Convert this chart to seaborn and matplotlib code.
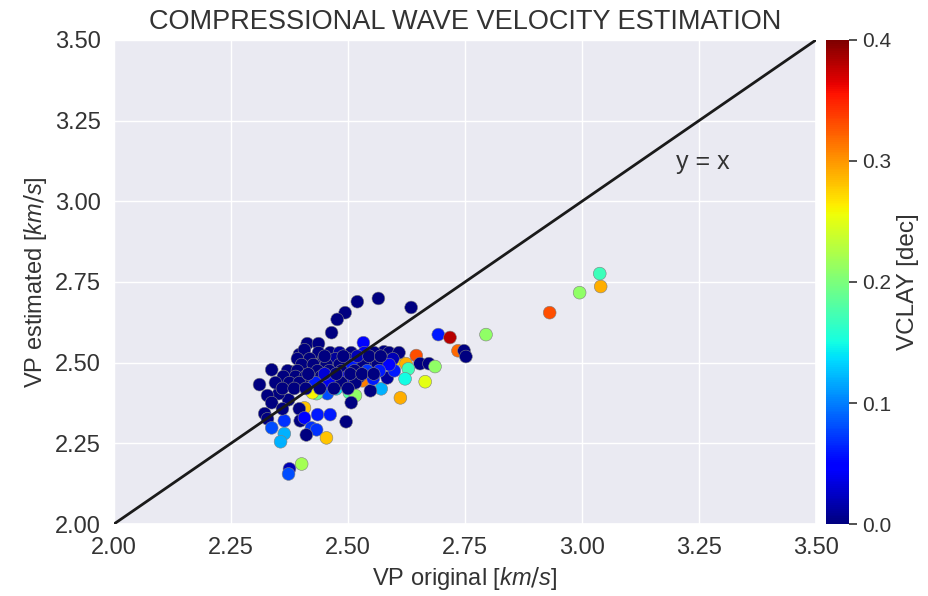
import numpy as np
import pandas as pd
import matplotlib
matplotlib.use('Agg')
import matplotlib.pyplot as plt
import seaborn as sns

# points: VP original, VP estimated (km/s), VCLAY (dec)
vp_orig = [2.520, 2.565, 2.635, 2.494, 2.477, 2.465, 2.413, 2.437, 2.396, 2.407,
           2.533, 2.577, 2.693, 2.718, 2.337, 2.311, 2.377, 2.424, 2.607, 2.624,
           2.646, 2.654, 2.673, 2.686, 2.629, 2.622, 2.665, 2.612, 2.571, 2.548,
           2.531, 2.554, 2.584, 2.599, 2.503, 2.516, 2.507, 2.475, 2.456, 2.433,
           2.424, 2.407, 2.373, 2.352, 2.328, 2.337, 2.322, 2.328, 2.337, 2.364,
           2.360, 2.396, 2.398, 2.407, 2.435, 2.462, 2.422, 2.433, 2.411, 2.454,
           2.364, 2.356, 2.496, 2.401, 2.375, 2.373, 2.735, 2.748, 2.752, 2.795,
           2.931, 2.995, 3.040, 3.038,
           # dense cluster
           2.437, 2.462, 2.482, 2.507, 2.535, 2.556, 2.588, 2.609,
           2.392, 2.418, 2.448, 2.473, 2.499, 2.524, 2.550, 2.575, 2.596,
           2.401, 2.426, 2.454, 2.482, 2.507, 2.533, 2.563, 2.588,
           2.371, 2.392, 2.435, 2.460, 2.486, 2.514, 2.541, 2.567,
           2.362, 2.388, 2.409, 2.443, 2.471, 2.499, 2.524,
           2.345, 2.375, 2.396, 2.430, 2.460, 2.486, 2.516,
           2.450, 2.490, 2.520, 2.545, 2.570,
           2.415, 2.450, 2.475, 2.505, 2.530, 2.555,
           2.360, 2.385, 2.410, 2.440, 2.470, 2.500]
vp_est = [2.689, 2.699, 2.671, 2.655, 2.634, 2.593, 2.559, 2.559, 2.525, 2.540,
          2.562, 2.534, 2.587, 2.578, 2.478, 2.432, 2.472, 2.463, 2.512, 2.497,
          2.522, 2.497, 2.497, 2.488, 2.481, 2.450, 2.441, 2.391, 2.419, 2.413,
          2.444, 2.450, 2.453, 2.475, 2.407, 2.398, 2.376, 2.419, 2.404, 2.404,
          2.407, 2.360, 2.385, 2.404, 2.398, 2.376, 2.342, 2.326, 2.298, 2.320,
          2.357, 2.357, 2.320, 2.329, 2.339, 2.339, 2.298, 2.292, 2.276, 2.267,
          2.280, 2.255, 2.317, 2.186, 2.171, 2.155, 2.537, 2.537, 2.519, 2.587,
          2.655, 2.717, 2.736, 2.776,
          2.531, 2.531, 2.531, 2.531, 2.531, 2.531, 2.531, 2.531,
          2.512, 2.512, 2.512, 2.512, 2.512, 2.512, 2.512, 2.512, 2.512,
          2.494, 2.494, 2.494, 2.494, 2.494, 2.494, 2.494, 2.494,
          2.475, 2.475, 2.475, 2.475, 2.475, 2.475, 2.475, 2.475,
          2.457, 2.457, 2.457, 2.457, 2.457, 2.457, 2.457,
          2.438, 2.438, 2.438, 2.438, 2.438, 2.438, 2.438,
          2.520, 2.520, 2.520, 2.520, 2.520,
          2.465, 2.465, 2.465, 2.465, 2.465, 2.465,
          2.420, 2.420, 2.420, 2.420, 2.420, 2.420]
vclay = [0.0, 0.0, 0.0, 0.0, 0.0, 0.0, 0.0, 0.0, 0.0, 0.0,
         0.05, 0.0, 0.06, 0.38, 0.0, 0.0, 0.0, 0.26, 0.27, 0.29,
         0.33, 0.0, 0.0, 0.21, 0.17, 0.15, 0.25, 0.29, 0.12, 0.0,
         0.31, 0.06, 0.01, 0.06, 0.18, 0.21, 0.0, 0.14, 0.08, 0.19,
         0.26, 0.28, 0.0, 0.0, 0.0, 0.0, 0.0, 0.0, 0.08, 0.07,
         0.0, 0.0, 0.0, 0.05, 0.06, 0.06, 0.07, 0.07, 0.0, 0.28,
         0.12, 0.12, 0.0, 0.22, 0.02, 0.08, 0.32, 0.0, 0.0, 0.21,
         0.33, 0.21, 0.29, 0.17,
         0.0, 0.0, 0.01, 0.0, 0.04, 0.0, 0.0, 0.0,
         0.0, 0.0, 0.0, 0.01, 0.0, 0.05, 0.0, 0.0, 0.02,
         0.0, 0.0, 0.0, 0.0, 0.06, 0.0, 0.0, 0.05,
         0.0, 0.0, 0.0, 0.0, 0.0, 0.0, 0.07, 0.06,
         0.0, 0.0, 0.0, 0.0, 0.13, 0.05, 0.0,
         0.0, 0.0, 0.0, 0.06, 0.04, 0.0, 0.0,
         0.0, 0.0, 0.02, 0.0, 0.0,
         0.0, 0.03, 0.0, 0.0, 0.0, 0.0,
         0.0, 0.0, 0.0, 0.0, 0.0, 0.0]

ticks = [2.00, 2.25, 2.50, 2.75, 3.00, 3.25, 3.50]
cbar_ticks = [0.0, 0.1, 0.2, 0.3, 0.4]

df = pd.DataFrame({'VP': vp_orig, 'VP_est': vp_est, 'VCLAY': vclay})

sns.set_theme(style='darkgrid')
plt.rcParams['font.family'] = ['Liberation Sans', 'DejaVu Sans']
plt.rcParams['mathtext.fontset'] = 'custom'
plt.rcParams['mathtext.it'] = 'Liberation Sans:italic'

jet = plt.get_cmap('jet')

fig = plt.figure(figsize=(9.29, 5.96), dpi=100)
ax = fig.add_axes([0.1227, 0.1208, 0.7556, 0.8121])
cax = fig.add_axes([0.8891, 0.1208, 0.0248, 0.8121])

sns.scatterplot(data=df, x='VP', y='VP_est', hue='VCLAY', palette=jet,
                hue_norm=(0, 0.4), s=85, edgecolor='grey', linewidth=0.4,
                legend=False, ax=ax, zorder=3)
ax.plot([2.0, 3.5], [2.0, 3.5], color='#1a1a1a', lw=2, zorder=4)
ax.text(3.2, 3.1, 'y = x', fontsize=18, color='#333333')

ax.set_xlim(2.0, 3.5)
ax.set_ylim(2.0, 3.5)
ax.set_xticks(ticks)
ax.set_yticks(ticks)
ax.set_xticklabels(['%.2f' % t for t in ticks])
ax.set_yticklabels(['%.2f' % t for t in ticks])
ax.tick_params(axis='both', labelsize=17, colors='#333333')
ax.set_xlabel('VP original [$km/s$]', fontsize=17, color='#333333')
ax.set_ylabel('VP estimated [$km/s$]', fontsize=17, color='#333333')
ax.set_title('COMPRESSIONAL WAVE VELOCITY ESTIMATION', fontsize=19.5, color='#333333', pad=8)

sm = plt.cm.ScalarMappable(cmap=jet, norm=plt.Normalize(0, 0.4))
cb = fig.colorbar(sm, cax=cax)
cb.set_ticks(cbar_ticks)
cb.set_ticklabels(['%.1f' % t for t in cbar_ticks])
cb.outline.set_visible(False)
cax.tick_params(right=True, length=6, width=1.2, labelsize=15, colors='#333333')
cb.set_label('VCLAY [dec]', fontsize=17.5, color='#333333')

plt.savefig('out.png', dpi=100)
